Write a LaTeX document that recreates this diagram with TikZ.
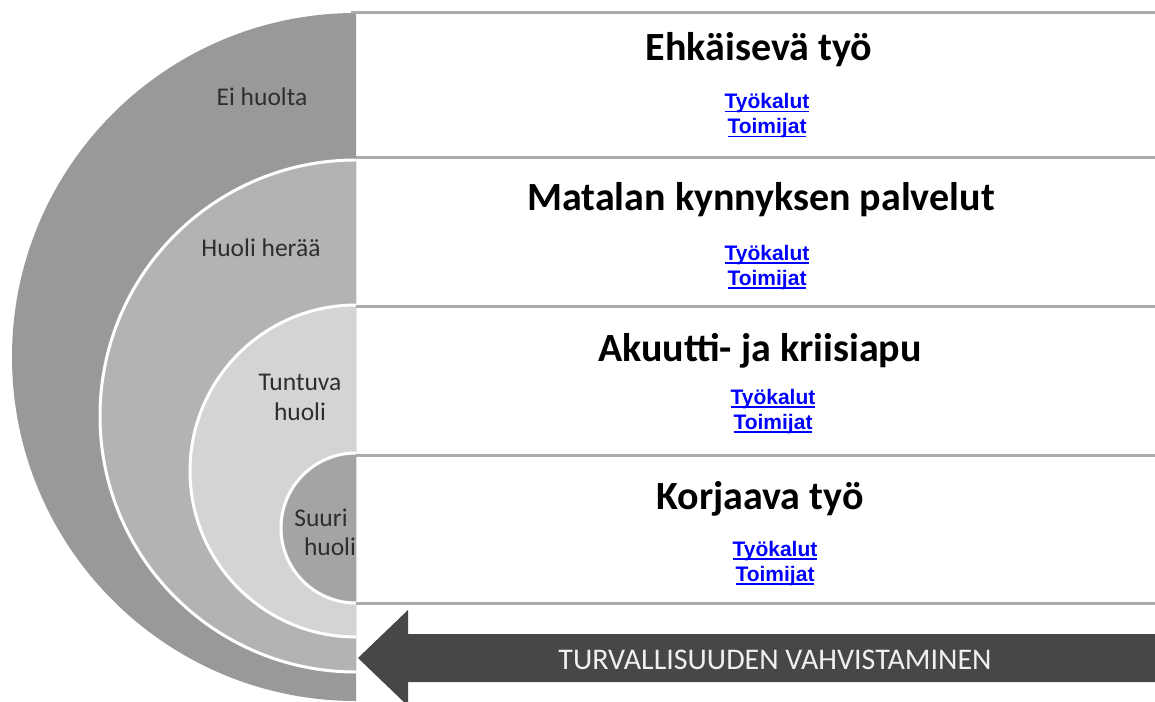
\documentclass[tikz,border=0pt]{standalone}
\usepackage{fontspec}
\setmainfont{Carlito}
\newfontfamily\linkfont{Liberation Sans}
\usepackage{tikz}
\definecolor{ringA}{HTML}{999999}
\definecolor{ringB}{HTML}{B3B3B3}
\definecolor{ringC}{HTML}{D4D4D4}
\definecolor{ringD}{HTML}{A4A4A4}
\definecolor{rule}{HTML}{AAAAAA}
\definecolor{arrowgray}{HTML}{474747}
\definecolor{lbl}{HTML}{2E2E2E}
\newcommand\ulink[1]{\setbox0\hbox{#1}\rlap{\rule[-3.5bp]{\wd0}{1.8bp}}\box0}
\tikzset{
  ringedge/.style={draw=white,line width=3bp},
  band/.style={draw=rule,line width=3bp},
  title/.style={anchor=base,inner sep=0pt,font=\bfseries\fontsize{40bp}{48bp}\selectfont},
  link/.style={anchor=base,inner sep=0pt,text=blue,font=\linkfont\bfseries\fontsize{21bp}{25bp}\selectfont},
  ringlabel/.style={anchor=base,inner sep=0pt,text=lbl,font=\fontsize{25.5bp}{30bp}\selectfont}
}

\begin{document}
\begin{tikzpicture}[x=1bp,y=-1bp]
\useasboundingbox (0,0) rectangle (1155,702);
\fill[ringA] (356,701) arc[start angle=90,end angle=270,radius=344] -- cycle;
\fill[ringB] (356,672) arc[start angle=90,end angle=270,radius=256] -- cycle;
\draw[ringedge] (356,672) arc[start angle=90,end angle=270,radius=256];
\fill[ringC] (356,637) arc[start angle=90,end angle=270,radius=166] -- cycle;
\draw[ringedge] (356,637) arc[start angle=90,end angle=270,radius=166];
\fill[ringD] (356,603) arc[start angle=90,end angle=270,radius=75] -- cycle;
\draw[ringedge] (356,603) arc[start angle=90,end angle=270,radius=75];
\draw[band] (351,13) -- (1155,13);
\draw[band] (356,158) -- (1155,158);
\draw[band] (356,306) -- (1155,306);
\draw[band] (356,455) -- (1155,455);
\draw[band] (356,603) -- (1155,603);
\node[ringlabel] (eihuolta) at (262,106) {Ei huolta};
\node[ringlabel] (herää) at (261,256) {Huoli herää};
\node[ringlabel] (tuntuva) at (300,390) {Tuntuva};
\node[ringlabel] (tuntuvahuoli) at (300,420) {huoli};
\node[ringlabel] (suuri) at (321,526) {Suuri};
\node[ringlabel] (suurihuoli) at (330,555) {huoli};
\node[title] (ehkaisy) at (759,61) {Ehkäisevä työ};
\node[link] (tyokalut1) at (767,109) {\ulink{Työkalut}};
\node[link] (toimijat1) at (767,134) {\ulink{Toimijat}};
\node[title] (matala) at (761,211) {Matalan kynnyksen palvelut};
\node[link] (tyokalut2) at (767,260) {\ulink{Työkalut}};
\node[link] (toimijat2) at (767,285) {\ulink{Toimijat}};
\node[title] (akuutti) at (760,361) {Akuutti- ja kriisiapu};
\node[link] (tyokalut3) at (773,404) {\ulink{Työkalut}};
\node[link] (toimijat3) at (773,429) {\ulink{Toimijat}};
\node[title] (korjaava) at (760,509) {Korjaava työ};
\node[link] (tyokalut4) at (775,556) {\ulink{Työkalut}};
\node[link] (toimijat4) at (775,581) {\ulink{Toimijat}};
\fill[arrowgray] (358,658) -- (408,610) -- (408,634) -- (1155,634) -- (1155,682) -- (408,682) -- (408,706) -- cycle;
\node[anchor=base,inner sep=0pt,text=white!94!black,font=\fontsize{30bp}{36bp}\selectfont] (turva) at (775,669) {TURVALLISUUDEN VAHVISTAMINEN};
\end{tikzpicture}
\end{document}
